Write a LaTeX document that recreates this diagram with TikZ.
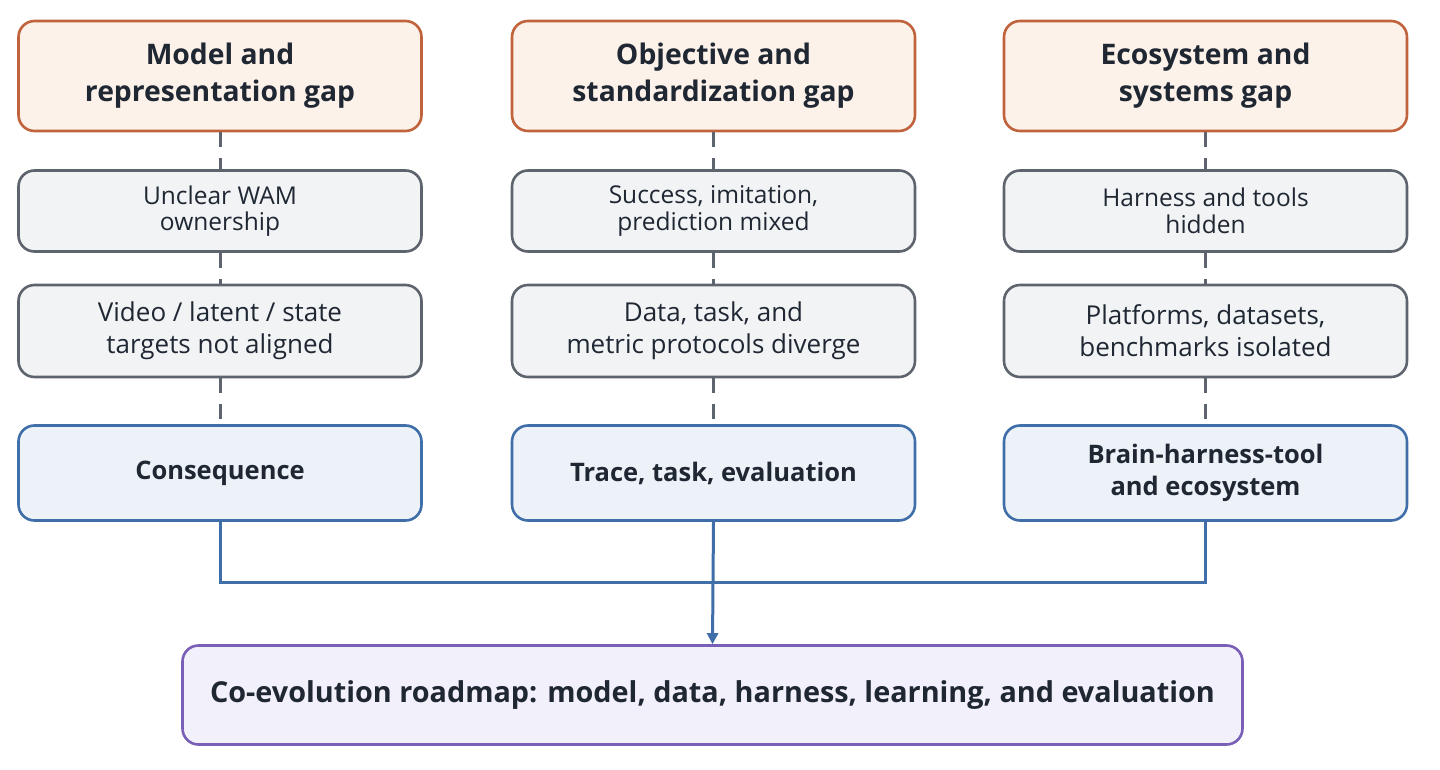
\documentclass[tikz,border=0pt]{standalone}
\usepackage{fontspec}
\setmainfont{Open Sans}
\usetikzlibrary{arrows.meta,positioning}
\definecolor{txt}{HTML}{1F2733}
\definecolor{orB}{HTML}{C0623C}
\definecolor{orF}{HTML}{FDF2EA}
\definecolor{grB}{HTML}{5E646D}
\definecolor{grF}{HTML}{F2F3F5}
\definecolor{blB}{HTML}{3F6EA8}
\definecolor{blF}{HTML}{EDF2F9}
\definecolor{puB}{HTML}{7A5FB6}
\definecolor{puF}{HTML}{F2F0FB}
\tikzset{
  base/.style={rounded corners=16pt, line width=2.6pt, align=center, text=txt, minimum width=403pt, inner sep=0pt},
  gapbox/.style={base, draw=orB, fill=orF, minimum height=110pt, font=\fontsize{28.3}{37}\selectfont\bfseries},
  issuebox/.style={base, draw=grB, fill=grF, minimum height=81pt, font=\fontsize{24.5}{26.5}\selectfont},
  issuebig/.style={base, draw=grB, fill=grF, minimum height=92pt, font=\fontsize{26}{32}\selectfont},
  conbox/.style={base, draw=blB, fill=blF, minimum height=95pt, font=\fontsize{25.5}{32}\selectfont\bfseries},
  roadbox/.style={base, draw=puB, fill=puF, minimum width=1060pt, minimum height=99pt, font=\fontsize{28.8}{32}\selectfont\bfseries},
  dashlink/.style={draw=grB, line width=3pt, dash pattern=on 15pt off 11pt},
  bluelink/.style={draw=blB, line width=3pt},
}
\begin{document}
\begin{tikzpicture}[x=1pt,y=-1pt]
\useasboundingbox (0,0) rectangle (1440,770);
% column 1
\node[gapbox]   (t1) at (220,76)  {Model and\\representation gap};
\node[issuebox] (a1) at (220,211)   {Unclear WAM\\ownership};
\node[issuebig] (b1) at (220,331) {Video / latent / state\\targets not aligned};
\node[conbox]   (c1) at (220,473)   {Consequence};
% column 2
\node[gapbox]   (t2) at (713.5,76)  {Objective and\\standardization gap};
\node[issuebox] (a2) at (713.5,211)   {Success, imitation,\\prediction mixed};
\node[issuebig] (b2) at (713.5,331) {Data, task, and\\metric protocols diverge};
\node[conbox]   (c2) at (713.5,473)   {Trace, task, evaluation};
% column 3
\node[gapbox]   (t3) at (1205.5,76)  {Ecosystem and\\systems gap};
\node[issuebox] (a3) at (1205.5,211)   {Harness and tools\\hidden};
\node[issuebig] (b3) at (1205.5,331) {Platforms, datasets,\\benchmarks isolated};
\node[conbox]   (c3) at (1205.5,473)   {Brain-harness-tool\\and ecosystem};
% roadmap
\node[roadbox] (r) at (712.5,695) {Co-evolution roadmap: model, data, harness, learning, and evaluation};
% dashed links
\foreach \c in {1,2,3}{
  \draw[dashlink] (t\c.south) -- (a\c.north);
  \draw[dashlink] (a\c.south) -- (b\c.north);
  \draw[dashlink] (b\c.south) -- (c\c.north);
}
\coordinate (j) at (713.5,582);
\draw[bluelink] (c1.south) |- (j) -| (c3.south);
\draw[bluelink, -{Triangle[width=11pt,length=11pt]}] (c2.south) -- (r.north);
\end{tikzpicture}
\end{document}
